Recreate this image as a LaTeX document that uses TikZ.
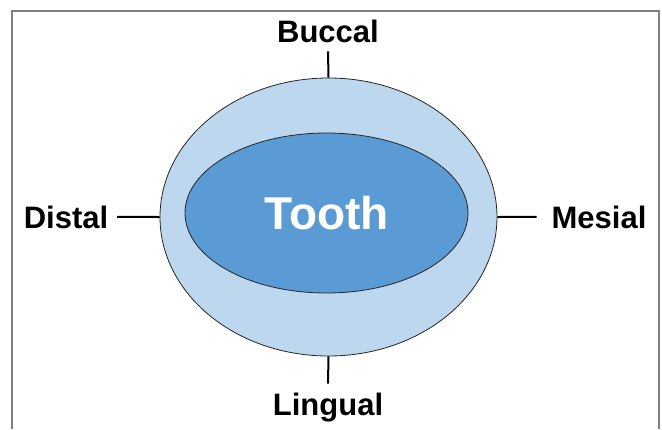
\documentclass[tikz,border=0pt]{standalone}
\usepackage{fontspec}
\setmainfont{Liberation Sans}
\usepackage{tikz}
\usetikzlibrary{shapes.geometric}

\definecolor{gumblue}{HTML}{BDD7EE}
\definecolor{toothblue}{HTML}{5B9BD5}

\tikzset{
  side/.style={font=\fontsize{31}{31}\selectfont\bfseries, inner sep=0pt, outer sep=9pt, anchor=base},
  ring/.style={ellipse, draw=black!85, line width=0.8pt, inner sep=0pt},
  tick/.style={line width=2pt}
}

\begin{document}
\begin{tikzpicture}[x=1pt,y=-1pt]
\useasboundingbox (0,0) rectangle (662,429);
\draw[gray, line width=1.3pt] (12,429) -- (12,11) -- (659,11) -- (659,429);

\node[ring, fill=gumblue, minimum width=337pt, minimum height=278pt] (outer) at (328.5,217) {};
\node[ring, fill=toothblue, minimum width=283pt, minimum height=160pt,
      font=\fontsize{46}{46}\selectfont\bfseries, text=white] (tooth) at (326.5,213) {Tooth};

\node[side] (buccal) at (328,42) {Buccal};
\node[side] (lingual) at (328,415) {Lingual};
\node[side] (distal) at (66,228) {Distal};
\node[side, outer sep=15pt] (mesial) at (599,228) {Mesial};

\draw[tick] (outer.north) -- (buccal.south);
\draw[tick] (outer.south) -- (lingual.north);
\draw[tick] (outer.west) -- (distal.east);
\draw[tick] (outer.east) -- (mesial.west);

\end{tikzpicture}
\end{document}
